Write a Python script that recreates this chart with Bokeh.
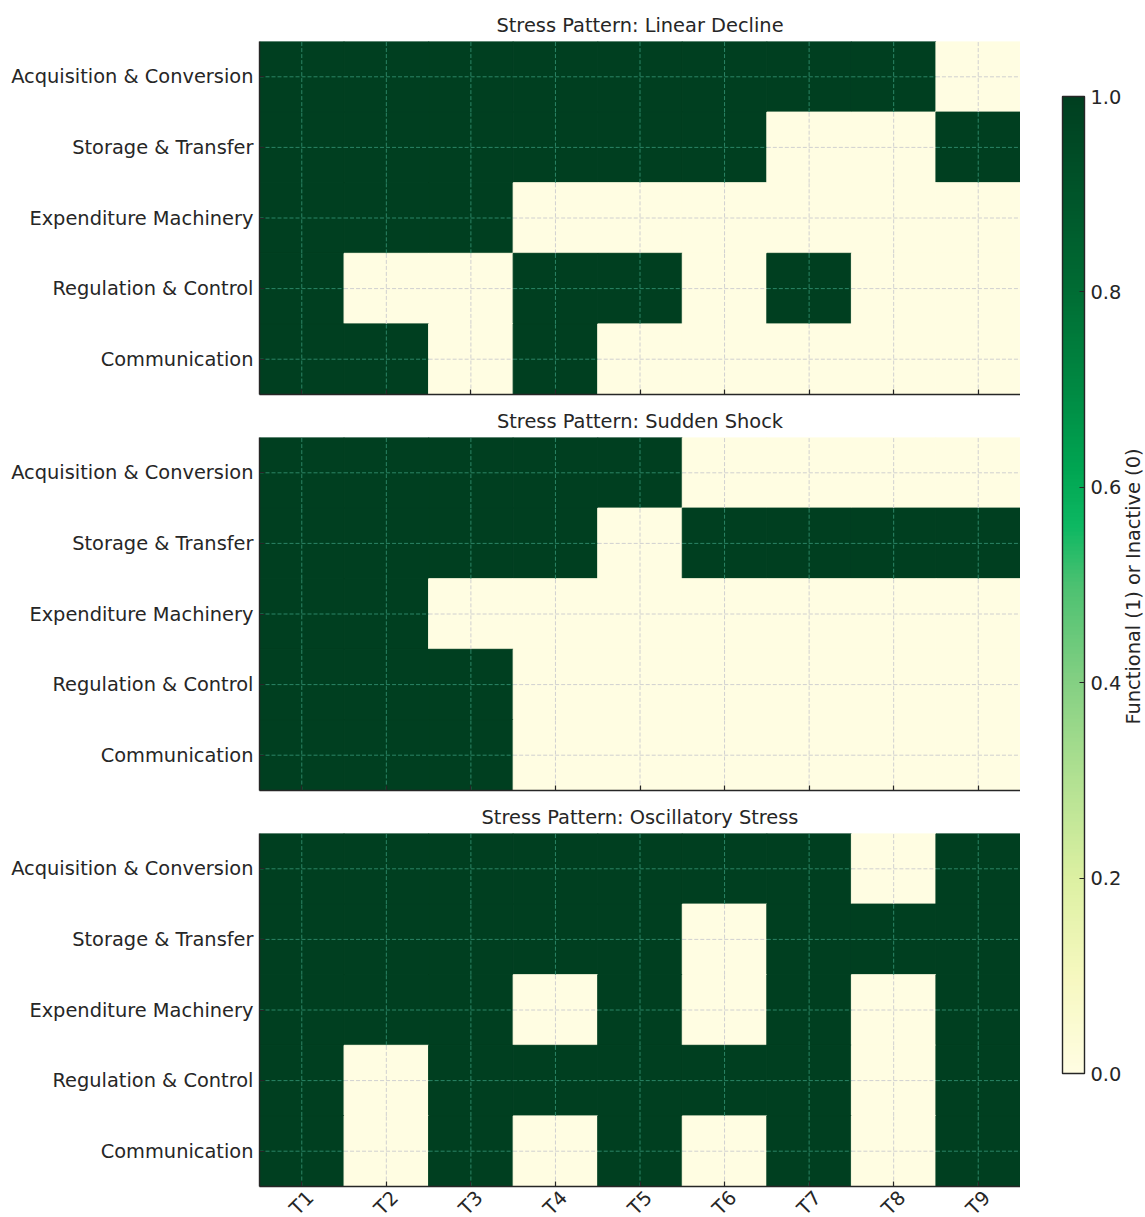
from math import pi
from bokeh.plotting import figure
from bokeh.models import (LinearColorMapper, ColorBar, FixedTicker, PrintfTickFormatter,
                          Label, LabelSet, Range1d, FactorRange, ColumnDataSource)
from bokeh.layouts import row, column
from bokeh.transform import transform, dodge
from bokeh.core.properties import value
from bokeh.embed import file_html
from bokeh.resources import INLINE

# ---------------- data ----------------
time_steps = ["T1", "T2", "T3", "T4", "T5", "T6", "T7", "T8", "T9"]
systems = ["Acquisition & Conversion", "Storage & Transfer", "Expenditure Machinery",
           "Regulation & Control", "Communication"]
pattern_titles = ["Stress Pattern: Linear Decline", "Stress Pattern: Sudden Shock",
                  "Stress Pattern: Oscillatory Stress"]

linear_decline = [
    [1, 1, 1, 1, 1, 1, 1, 1, 0],
    [1, 1, 1, 1, 1, 1, 0, 0, 1],
    [1, 1, 1, 0, 0, 0, 0, 0, 0],
    [1, 0, 0, 1, 1, 0, 1, 0, 0],
    [1, 1, 0, 1, 0, 0, 0, 0, 0],
]
sudden_shock = [
    [1, 1, 1, 1, 1, 0, 0, 0, 0],
    [1, 1, 1, 1, 0, 1, 1, 1, 1],
    [1, 1, 0, 0, 0, 0, 0, 0, 0],
    [1, 1, 1, 0, 0, 0, 0, 0, 0],
    [1, 1, 1, 0, 0, 0, 0, 0, 0],
]
oscillatory_stress = [
    [1, 1, 1, 1, 1, 1, 1, 0, 1],
    [1, 1, 1, 1, 1, 0, 1, 1, 1],
    [1, 1, 1, 0, 1, 0, 1, 0, 1],
    [1, 0, 1, 1, 1, 1, 1, 0, 1],
    [1, 0, 1, 0, 1, 0, 1, 0, 1],
]
colorbar_ticks = [0.0, 0.2, 0.4, 0.6, 0.8, 1.0]
colorbar_label = "Functional (1) or Inactive (0)"

# ---------------- palette (style) ----------------
anchors = [
    (0.00, "#fffde2"), (0.10, "#f6f8bf"), (0.20, "#dcf0a2"), (0.30, "#b2e192"),
    (0.40, "#84d083"), (0.50, "#4cc171"), (0.56, "#0db862"), (0.62, "#00a552"),
    (0.70, "#008a43"), (0.80, "#006d34"), (0.90, "#00552a"), (1.00, "#003f20"),
]


def hex2rgb(h):
    return tuple(int(h[i:i + 2], 16) for i in (1, 3, 5))


palette = []
for k in range(256):
    t = k / 255
    for (t0, c0), (t1, c1) in zip(anchors[:-1], anchors[1:]):
        if t0 <= t <= t1:
            f = (t - t0) / (t1 - t0) if t1 > t0 else 0
            a, b = hex2rgb(c0), hex2rgb(c1)
            palette.append("#%02x%02x%02x" % tuple(round(a[i] + (b[i] - a[i]) * f) for i in range(3)))
            break

mapper = LinearColorMapper(palette=palette, low=0, high=1)
# dashed grid: grey over inactive cells, teal over functional cells
grid_mapper = LinearColorMapper(palette=["#d0d0d0", "#2b8566"], low=0, high=1)

FONT = "DejaVu Sans"
TXT = "#262626"
FS = "19.4px"

x_factors = FactorRange(*time_steps)


def make_panel(title, grid, top, bottom):
    xs, ys, vs = [], [], []
    for r, sys_name in enumerate(systems):
        for c, t in enumerate(time_steps):
            xs.append(t)
            ys.append(sys_name)
            vs.append(grid[r][c])
    src = ColumnDataSource(dict(x=xs, y=ys, v=vs))
    y_factors = FactorRange(*reversed(systems))
    p = figure(x_range=x_factors, y_range=y_factors,
               frame_width=761, frame_height=353, min_border_left=259, min_border_right=0,
               min_border_top=top, min_border_bottom=bottom,
               toolbar_location=None, output_backend="svg", title=title,
               outline_line_color=None, background_fill_color="white")
    p.rect(x="x", y="y", width=1, height=1, source=src,
           fill_color=transform("v", mapper), line_color=transform("v", mapper), line_width=1)

    # grid lines through the cell centres, coloured by the cell underneath
    gcol = transform("v", grid_mapper)
    p.segment(x0=dodge("x", -0.5, range=x_factors), x1=dodge("x", 0.5, range=x_factors),
              y0="y", y1="y", source=src, line_color=gcol, line_width=1, line_dash="4 2")
    p.segment(x0="x", x1="x", y0=dodge("y", -0.5, range=y_factors),
              y1=dodge("y", 0.5, range=y_factors), source=src,
              line_color=gcol, line_width=1, line_dash="4 2")
    p.grid.visible = False

    p.title.text_font = FONT
    p.title.text_font_size = FS
    p.title.text_font_style = "normal"
    p.title.text_color = TXT
    p.title.align = "center"
    p.title.standoff = 10

    for ax in (p.xaxis, p.yaxis):
        ax.axis_line_color = TXT
        ax.axis_line_width = 1.4
        ax.major_tick_line_color = TXT
        ax.major_tick_line_width = 1.2
        ax.major_tick_in = 5
        ax.major_tick_out = 0
        ax.major_label_text_font = FONT
        ax.major_label_text_font_size = FS
        ax.major_label_text_color = TXT
    p.yaxis.major_label_standoff = 6
    # x axis: tick marks only (the tick labels are drawn centred & rotated below)
    p.xaxis.major_label_text_font_size = "1px"
    p.xaxis.major_label_text_color = None
    p.xaxis.major_label_standoff = 0
    return p


p1 = make_panel(pattern_titles[0], linear_decline, 41, 8)
p2 = make_panel(pattern_titles[1], sudden_shock, 35, 8)
p3 = make_panel(pattern_titles[2], oscillatory_stress, 35, 3)

# strip under the bottom panel carrying the time-step tick labels (shares the x scale)
pl = figure(x_range=x_factors, y_range=Range1d(0, 28), frame_width=761, frame_height=28,
            min_border_left=259, min_border_right=0, min_border_top=0, min_border_bottom=0,
            x_axis_location=None, y_axis_location=None, outline_line_color=None,
            toolbar_location=None, output_backend="svg")
for g in pl.grid:
    g.visible = False
lab_src = ColumnDataSource(dict(x=time_steps))
pl.add_layout(LabelSet(x="x", y=14.5, text="x", source=lab_src,
                       angle=pi / 4, text_align="center", text_baseline="middle",
                       text_font=value(FONT), text_font_size=value(FS),
                       text_color=TXT))

cbfig = figure(width=125, height=1217, x_range=Range1d(0, 125), y_range=Range1d(0, 1217),
               toolbar_location=None, output_backend="svg", x_axis_location=None,
               y_axis_location=None, min_border=0, outline_line_color=None)
for g in cbfig.grid:
    g.visible = False

cb = ColorBar(color_mapper=mapper, location=(42, 144), width=22, height=977, padding=0,
              ticker=FixedTicker(ticks=colorbar_ticks),
              formatter=PrintfTickFormatter(format="%.1f"),
              major_label_text_font=FONT, major_label_text_font_size=FS,
              major_label_text_color=TXT, label_standoff=6,
              major_tick_in=5, major_tick_out=0, major_tick_line_color=TXT,
              major_tick_line_width=1.2,
              bar_line_color=TXT, bar_line_width=1.4,
              background_fill_color=None, border_line_color=None)
cbfig.add_layout(cb, "center")
cbfig.add_layout(Label(x=113, y=631, text=colorbar_label, angle=pi / 2,
                       text_align="center", text_baseline="middle",
                       text_font=FONT, text_font_size=FS, text_color=TXT))

layout = row(column(p1, p2, p3, pl), cbfig)
open("out.html", "w").write(file_html(layout, INLINE))
